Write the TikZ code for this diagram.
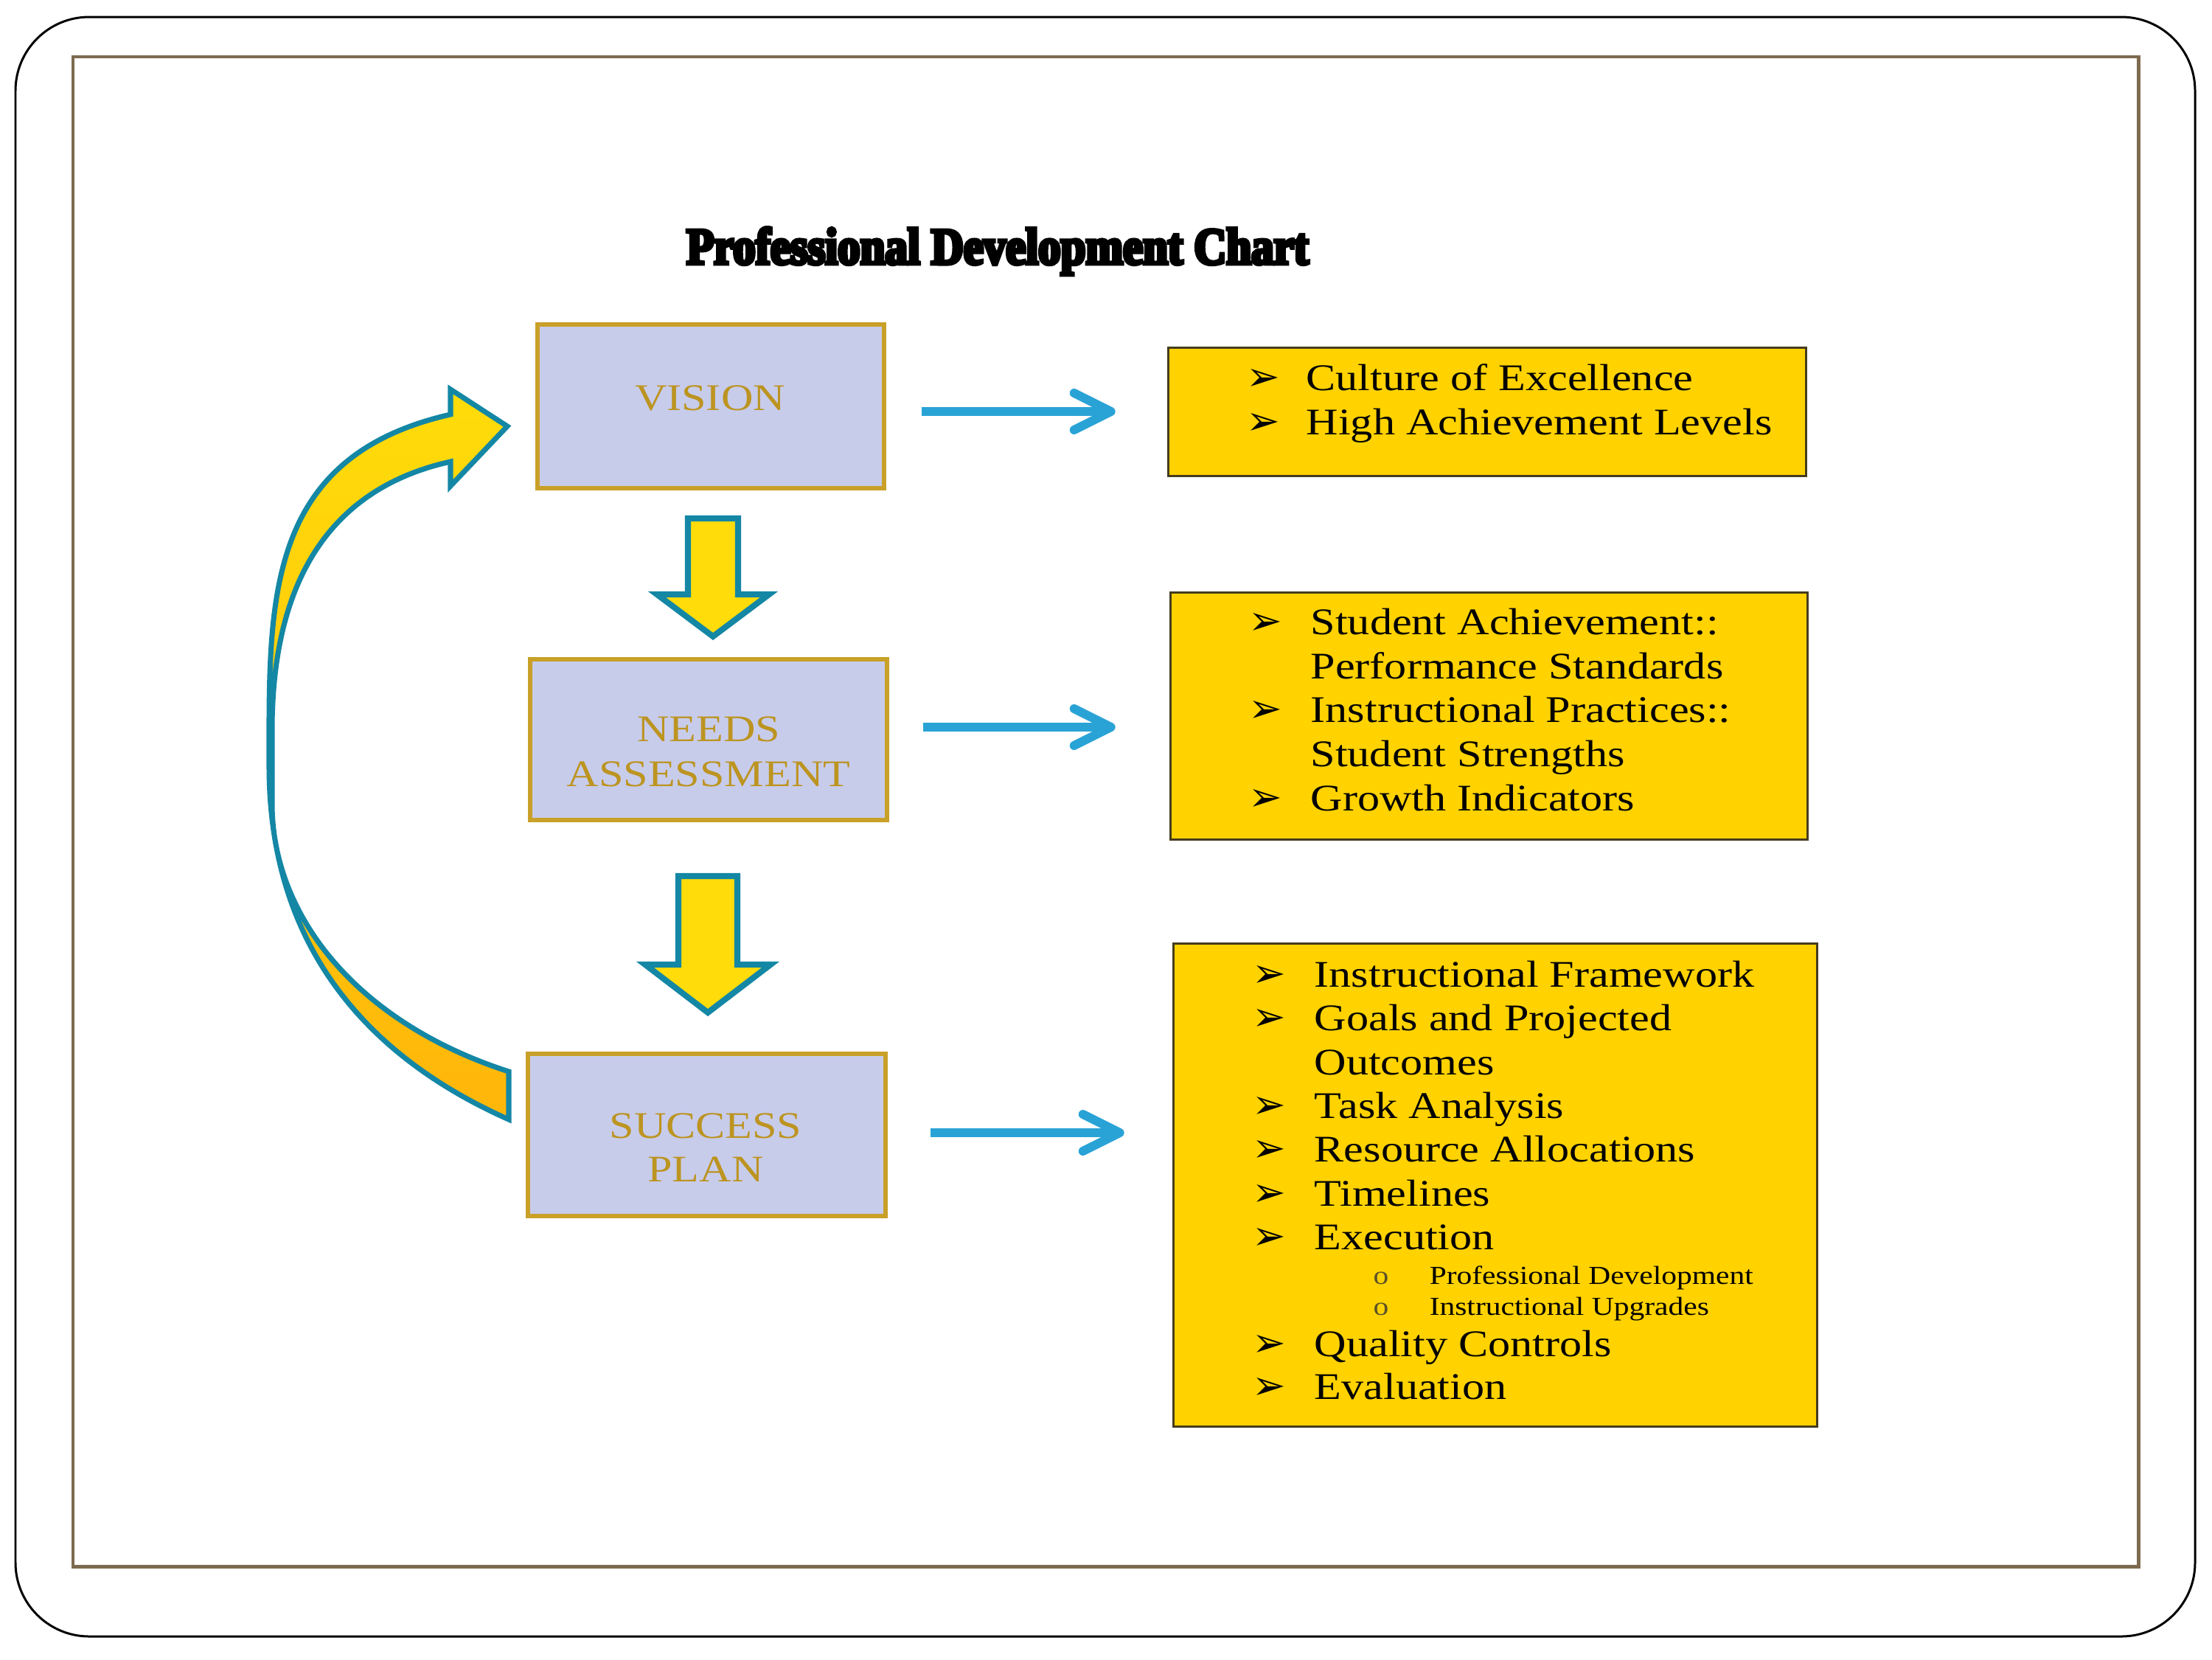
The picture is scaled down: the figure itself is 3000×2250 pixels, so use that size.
\documentclass[tikz,border=0pt]{standalone}
\usepackage{fontspec}
\setmainfont{Liberation Serif}[FakeStretch=1.18]
\newfontfamily\pdtitlefont{Liberation Serif}[UprightFont={* Bold}, FakeStretch=0.865, FakeBold=7]
\newfontfamily\pdbulfont{DejaVu Sans}
\usetikzlibrary{arrows.meta,calc}
\definecolor{pdlav}{RGB}{200,204,235}
\definecolor{pdgold}{RGB}{201,160,40}
\definecolor{pdlabel}{RGB}{188,148,32}
\definecolor{pdbox}{RGB}{255,210,0}
\definecolor{pdbord}{RGB}{70,60,30}
\definecolor{pdblue}{RGB}{41,163,214}
\definecolor{pdteal}{RGB}{20,135,165}
\definecolor{pdyellow}{RGB}{255,220,10}
\definecolor{pdorange}{RGB}{255,182,10}
\definecolor{pdframe}{RGB}{125,107,80}
\definecolor{pdsubgray}{RGB}{90,80,40}
\newcommand{\pdbul}[1]{\makebox[#1][l]{\kern-0.08cm\pdbulfont\fontsize{15.5}{15.5}\selectfont ➢}}
\newcommand{\pdsub}{\makebox[0.76cm][l]{\color{pdsubgray}\fontsize{10}{10}\selectfont o}}
\tikzset{
  lavbox/.style={draw=pdgold, line width=1.7pt, fill=pdlav, inner sep=0pt},
  yelbox/.style={draw=pdbord, line width=0.85pt, fill=pdbox, inner sep=0pt},
  lbltext/.style={anchor=base, inner sep=0pt, text=pdlabel, font=\fontsize{14.5}{17}\selectfont},
  itemtext/.style={anchor=base west, inner sep=0pt, font=\fontsize{14.5}{17}\selectfont},
  subtext/.style={anchor=base west, inner sep=0pt, font=\fontsize{10}{12}\selectfont},
  bluearrow/.style={draw=pdblue, line width=3.4pt, -{Straight Barb[round,length=0.5cm,width=0.5cm]}},
  blockarrow/.style={draw=pdteal, line width=2.3pt, fill=pdyellow, line join=miter},
}
\newcommand{\pdblock}[6]{% cx, top, base, tip, shaft half width, head half width
  \draw[blockarrow] (#1-#5,#2) -- (#1+#5,#2) -- (#1+#5,#3) -- (#1+#6,#3) -- (#1,#4)
    -- (#1-#6,#3) -- (#1-#5,#3) -- cycle;}
\begin{document}
\begin{tikzpicture}[x=0.01cm, y=-0.01cm]
\useasboundingbox (0,0) rectangle (3000,2250);
% slide frames
\fill[white] (0,0) rectangle (3000,2250);
\draw[black, line width=0.85pt, rounded corners=1cm] (21,23) rectangle (2977,2219);
\draw[pdframe, line width=1.4pt] (99,77) rectangle (2900,2124);
% title
\node[anchor=base, inner sep=0pt, font=\pdtitlefont\fontsize{20}{22}\selectfont] (title) at (1353,358) {Professional Development Chart};
% left boxes
\node[lavbox, minimum width=4.70cm, minimum height=2.22cm] (vision) at (964,551) {};
\node[lavbox, minimum width=4.84cm, minimum height=2.18cm] (needs) at (961,1003) {};
\node[lavbox, minimum width=4.85cm, minimum height=2.20cm] (success) at (958.5,1539) {};
\node[lbltext] (visiont) at (963,556) {VISION};
\node[lbltext] (needst1) at (961,1005) {NEEDS};
\node[lbltext] (needst2) at (961,1066) {ASSESSMENT};
\node[lbltext] (succt1) at (957,1543) {SUCCESS};
\node[lbltext] (succt2) at (957,1602) {PLAN};
% right boxes
\node[yelbox, minimum width=8.65cm, minimum height=1.74cm] (r1) at (2017,558.5) {};
\node[yelbox, minimum width=8.64cm, minimum height=3.35cm] (r2) at (2019.5,971) {};
\node[yelbox, minimum width=8.73cm, minimum height=6.55cm] (r3) at (2028,1607) {};
% box 1 text
\node[itemtext] (b1a) at (1698,529.5) {\pdbul{0.73cm}Culture of Excellence};
\node[itemtext] (b1b) at (1698,589) {\pdbul{0.73cm}High Achievement Levels};
% box 2 text
\node[itemtext] (b2a) at (1701,860) {\pdbul{0.76cm}Student Achievement::};
\node[itemtext] (b2b) at (1777,920) {Performance Standards};
\node[itemtext] (b2c) at (1701,979.5) {\pdbul{0.76cm}Instructional Practices::};
\node[itemtext] (b2d) at (1777,1039) {Student Strengths};
\node[itemtext] (b2e) at (1701,1099) {\pdbul{0.76cm}Growth Indicators};
% box 3 text
\node[itemtext] (b3a) at (1706,1338) {\pdbul{0.76cm}Instructional Framework};
\node[itemtext] (b3b) at (1706,1397.5) {\pdbul{0.76cm}Goals and Projected};
\node[itemtext] (b3c) at (1782,1457) {Outcomes};
\node[itemtext] (b3d) at (1706,1516.5) {\pdbul{0.76cm}Task Analysis};
\node[itemtext] (b3e) at (1706,1575.5) {\pdbul{0.76cm}Resource Allocations};
\node[itemtext] (b3f) at (1706,1635) {\pdbul{0.76cm}Timelines};
\node[itemtext] (b3g) at (1706,1694.5) {\pdbul{0.76cm}Execution};
\node[subtext] (b3h) at (1862,1741) {\pdsub Professional Development};
\node[subtext] (b3i) at (1862,1783.5) {\pdsub Instructional Upgrades};
\node[itemtext] (b3j) at (1706,1839.5) {\pdbul{0.76cm}Quality Controls};
\node[itemtext] (b3k) at (1706,1897.5) {\pdbul{0.76cm}Evaluation};
% blue connectors
\draw[bluearrow] ([xshift=0.48cm]vision.east |- 0,558) -- ([xshift=-0.70cm]r1.west |- 0,558);
\draw[bluearrow] ([xshift=0.46cm]needs.east |- 0,986) -- ([xshift=-0.73cm]r2.west |- 0,986);
\draw[bluearrow] ([xshift=0.58cm]success.east |- 0,1536) -- ([xshift=-0.65cm]r3.west |- 0,1536);
% block arrows down
\pdblock{967}{703}{806}{863}{34}{76}
\pdblock{960}{1188}{1308}{1373}{40}{85}
% curved return arrow
\path[draw=pdteal, line width=2pt, line join=miter, top color=pdyellow, middle color=pdyellow, bottom color=pdorange]
  (688,578) -- (611,528) -- (611,562)
  .. controls (356,620) and (365,820) .. (365,1040)
  .. controls (365,1240) and (456,1414) .. (690,1518)
  -- (690,1453)
  .. controls (482,1386) and (369,1240) .. (369,1090)
  -- (369,990)
  .. controls (369,840) and (412,670) .. (611,626)
  -- (611,659) -- cycle;
\end{tikzpicture}
\end{document}
